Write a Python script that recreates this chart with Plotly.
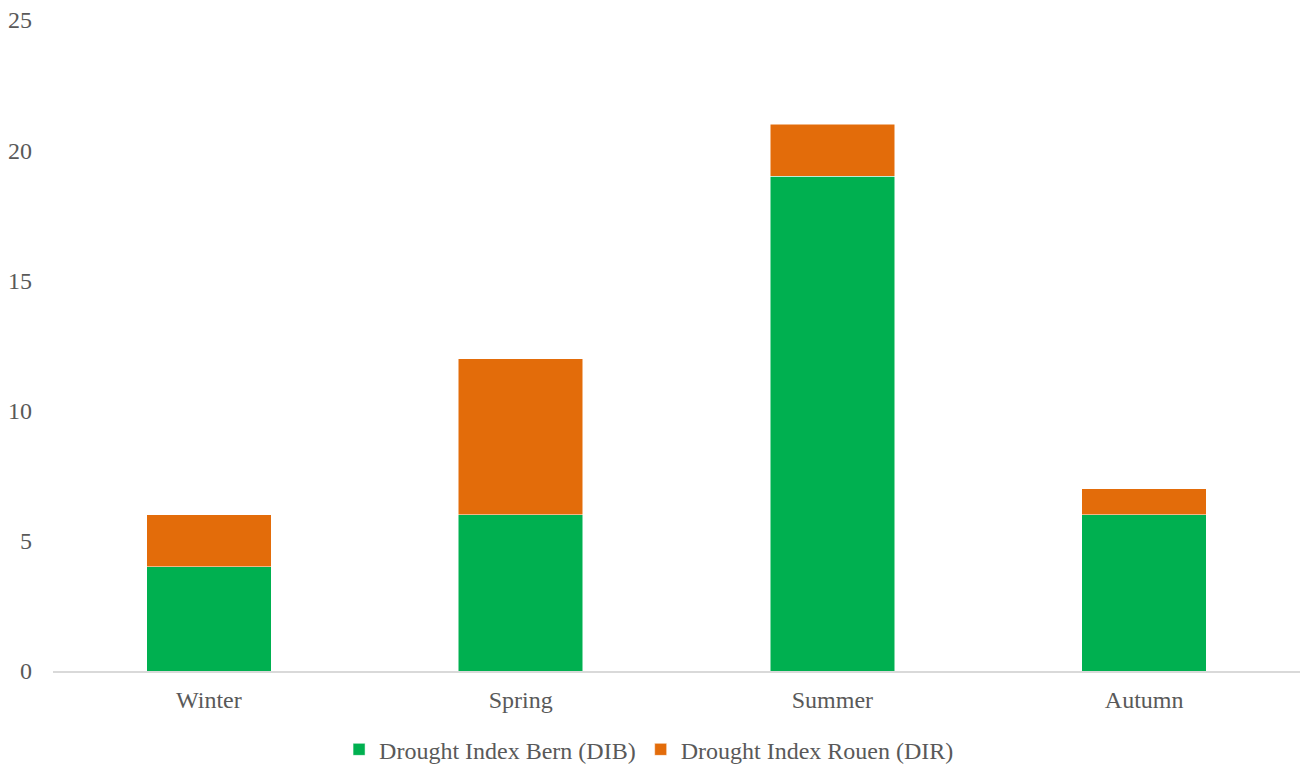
import plotly.graph_objects as go

seasons = ["Winter", "Spring", "Summer", "Autumn"]
dib = [4, 6, 19, 6]
dir_ = [2, 6, 2, 1]
y_ticks = [0, 5, 10, 15, 20, 25]

font_family = "Liberation Serif"
text_color = "#595959"
fs = 24

fig = go.Figure()
fig.add_trace(go.Bar(name="Drought Index Bern (DIB)", x=seasons, y=dib,
                     marker=dict(color="#00B050", line=dict(color="white", width=0.5))))
fig.add_trace(go.Bar(name="Drought Index Rouen (DIR)", x=seasons, y=dir_,
                     marker=dict(color="#E36C0A", line=dict(color="white", width=0.5))))

fig.update_layout(
    barmode="stack",
    bargap=0.6,
    width=1304, height=767,
    margin=dict(l=53, r=4, t=20, b=96, autoexpand=False),
    paper_bgcolor="white", plot_bgcolor="white",
    font=dict(family=font_family, size=fs, color=text_color),
    legend=dict(orientation="h", x=0.478, xanchor="center",
                y=-0.121, yanchor="middle", traceorder="normal",
                font=dict(family=font_family, size=fs, color=text_color),
                itemwidth=30, tracegroupgap=0),
    showlegend=True,
)
fig.update_xaxes(showline=True, linecolor="#D9D9D9", linewidth=1.5, showgrid=False,
                 ticks="", ticklabelstandoff=6,
                 tickfont=dict(family=font_family, size=fs, color=text_color))
fig.update_yaxes(range=[0, 25], tickvals=y_ticks, showgrid=False, zeroline=False,
                 showline=False, ticks="", ticklabelstandoff=20,
                 tickfont=dict(family=font_family, size=fs, color=text_color))

fig.write_html("out.html")
